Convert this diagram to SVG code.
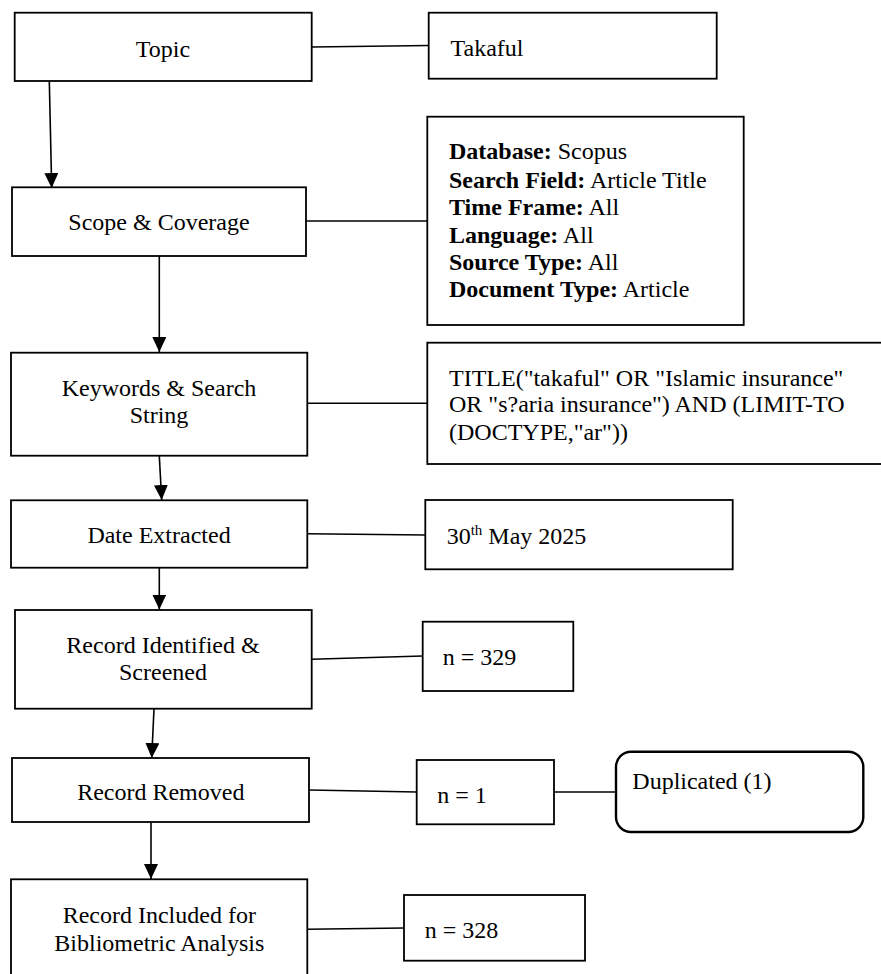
<svg xmlns="http://www.w3.org/2000/svg" width="881" height="974" viewBox="0 0 881 974">
<style>
  .box { fill: #ffffff; stroke: #000000; stroke-width: 1.8; }
  .rbox { fill: #ffffff; stroke: #000000; stroke-width: 2.4; }
  .t { font-family: "Liberation Serif", "Times New Roman", serif; font-size: 24px; fill: #000000; }
  .c { text-anchor: middle; }
  .b { font-weight: bold; }
  .ln { fill: none; stroke: #000000; stroke-width: 1.6; }
</style>
<defs>
  <marker id="arr" markerUnits="userSpaceOnUse" markerWidth="15" markerHeight="14" refX="15" refY="7" orient="auto">
    <path d="M0,0 L15,7 L0,14 z" fill="#000000"/>
  </marker>
</defs>
<rect width="881" height="974" fill="#ffffff"/>

<g id="connectors">
  <line class="ln" x1="311.7" y1="47" x2="429" y2="45.5"/>
  <line class="ln" x1="306" y1="221" x2="427.5" y2="221"/>
  <line class="ln" x1="307.3" y1="403.3" x2="427.5" y2="403.3"/>
  <line class="ln" x1="307.3" y1="533.7" x2="425.5" y2="535"/>
  <line class="ln" x1="311.7" y1="659.3" x2="422.7" y2="656"/>
  <line class="ln" x1="309" y1="790" x2="416.7" y2="792"/>
  <line class="ln" x1="554" y1="792" x2="616" y2="792"/>
  <line class="ln" x1="307.3" y1="929.3" x2="404" y2="928"/>
  <line class="ln" x1="49.3" y1="81" x2="51.7" y2="188" marker-end="url(#arr)"/>
  <line class="ln" x1="159.3" y1="256" x2="159.3" y2="352" marker-end="url(#arr)"/>
  <line class="ln" x1="159.3" y1="456" x2="161.7" y2="500" marker-end="url(#arr)"/>
  <line class="ln" x1="159.3" y1="568" x2="159.3" y2="609.5" marker-end="url(#arr)"/>
  <line class="ln" x1="154" y1="709" x2="151.7" y2="758" marker-end="url(#arr)"/>
  <line class="ln" x1="151" y1="822" x2="151" y2="879" marker-end="url(#arr)"/>
</g>

<g id="topic">
  <rect class="box" x="14.7" y="12.7" width="297" height="68.3"/>
  <text class="t c" x="163" y="56.5">Topic</text>
</g>
<g id="takaful">
  <rect class="box" x="428.7" y="12.7" width="288" height="66"/>
  <text class="t" x="450.5" y="56">Takaful</text>
</g>
<g id="scope">
  <rect class="box" x="12" y="187.3" width="294" height="68.7"/>
  <text class="t c" x="159" y="230">Scope &amp; Coverage</text>
</g>
<g id="database">
  <rect class="box" x="427.3" y="116.7" width="316.4" height="208.3"/>
  <text class="t" x="449" y="159.3"><tspan class="b">Database:</tspan> Scopus</text>
  <text class="t" x="449" y="187.7"><tspan class="b">Search Field:</tspan> Article Title</text>
  <text class="t" x="449" y="215"><tspan class="b">Time Frame:</tspan> All</text>
  <text class="t" x="449" y="242.7"><tspan class="b">Language:</tspan> All</text>
  <text class="t" x="449" y="270"><tspan class="b">Source Type:</tspan> All</text>
  <text class="t" x="449" y="297.3"><tspan class="b">Document Type:</tspan> Article</text>
</g>
<g id="keywords">
  <rect class="box" x="11" y="352.7" width="296.3" height="103"/>
  <text class="t c" x="159" y="396">Keywords &amp; Search</text>
  <text class="t c" x="159" y="422.7">String</text>
</g>
<g id="searchstring">
  <rect class="box" x="427.3" y="342.7" width="470" height="121.3"/>
  <text class="t" x="449" y="385.7">TITLE("takaful" OR "Islamic insurance"</text>
  <text class="t" x="449" y="412.3">OR "s?aria insurance") AND (LIMIT-TO</text>
  <text class="t" x="449" y="440">(DOCTYPE,"ar"))</text>
</g>
<g id="date">
  <rect class="box" x="11" y="500.3" width="296.3" height="67.4"/>
  <text class="t c" x="159" y="542.7">Date Extracted</text>
</g>
<g id="datevalue">
  <rect class="box" x="425.3" y="500" width="307.4" height="69.3"/>
  <text class="t" x="446.7" y="544.3">30<tspan font-size="15" dy="-9">th</tspan><tspan dy="9"> May 2025</tspan></text>
</g>
<g id="identified">
  <rect class="box" x="15" y="610" width="296.7" height="98.7"/>
  <text class="t c" x="163" y="652.7">Record Identified &amp;</text>
  <text class="t c" x="163" y="680">Screened</text>
</g>
<g id="n329">
  <rect class="box" x="422.7" y="621.7" width="150.6" height="69.3"/>
  <text class="t" x="442.7" y="665">n = 329</text>
</g>
<g id="removed">
  <rect class="box" x="12" y="758" width="297" height="64"/>
  <text class="t c" x="160.8" y="800">Record Removed</text>
</g>
<g id="n1">
  <rect class="box" x="416.7" y="760" width="137.3" height="64.3"/>
  <text class="t" x="437.3" y="802.7">n = 1</text>
</g>
<g id="duplicated">
  <rect class="rbox" x="616" y="751.7" width="247.3" height="80.3" rx="15" ry="15"/>
  <text class="t" x="632.3" y="789">Duplicated (1)</text>
</g>
<g id="included">
  <rect class="box" x="11" y="879.3" width="296.3" height="120"/>
  <text class="t c" x="159.3" y="923.3">Record Included for</text>
  <text class="t c" x="159.3" y="950.7">Bibliometric Analysis</text>
</g>
<g id="n328">
  <rect class="box" x="404" y="895" width="181" height="65.7"/>
  <text class="t" x="424.7" y="938.3">n = 328</text>
</g>
</svg>
